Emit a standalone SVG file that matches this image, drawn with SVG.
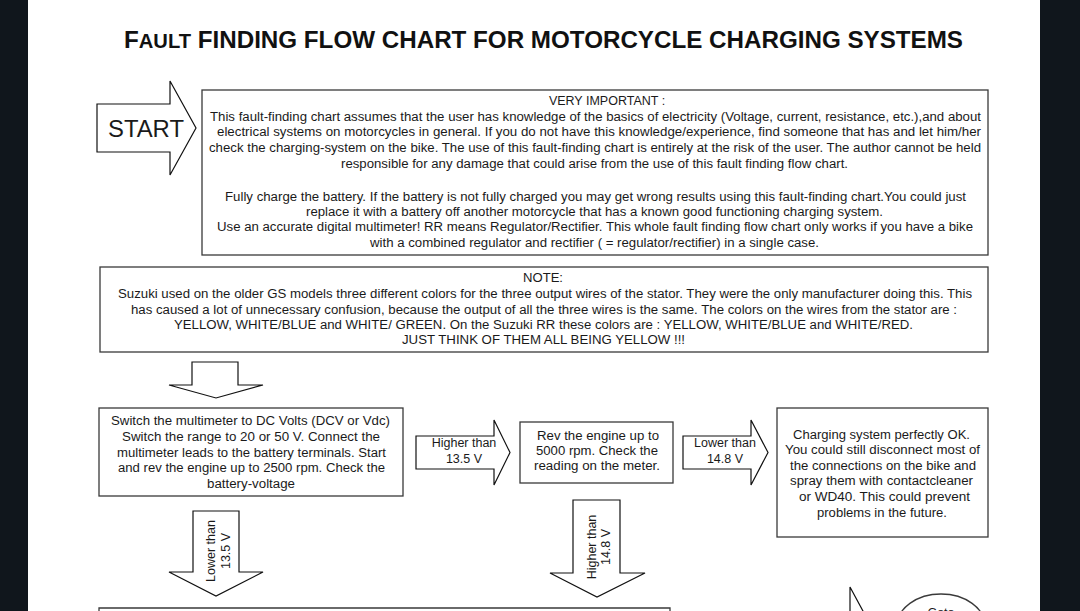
<svg xmlns="http://www.w3.org/2000/svg" width="1080" height="611" viewBox="0 0 1080 611">
<style>
  .t{font-family:"Liberation Sans",Arial,sans-serif;fill:#1a1a1a;font-size:12.5px}
  .c{text-anchor:middle}
  .box{fill:#fff;stroke:#3a3a3a;stroke-width:1.3}
  .arr{fill:#fff;stroke:#111;stroke-width:1.2;stroke-linejoin:miter}
  .title{font-family:"Liberation Sans",Arial,sans-serif;font-weight:bold;font-size:24px;fill:#111}
  .big{font-size:23px}
  .sc{font-size:20px}
</style>
<rect x="0" y="0" width="1080" height="611" fill="#ffffff"/>
<rect x="0" y="0" width="28" height="611" fill="#10161c"/>
<rect x="1040" y="0" width="40" height="611" fill="#10161c"/>

<g id="title">
  <text class="title" x="124" y="48" textLength="839" lengthAdjust="spacingAndGlyphs">F<tspan class="sc">AULT</tspan> FINDING FLOW CHART FOR MOTORCYCLE CHARGING SYSTEMS</text>
</g>

<g id="start">
  <polygon class="arr" points="97,104 170,104 170,81 196,128 170,175 170,152 97,152"/>
  <text class="t big" x="108" y="137" textLength="76" lengthAdjust="spacingAndGlyphs">START</text>
</g>

<g id="important">
  <rect class="box" x="202" y="90" width="786" height="165"/>
  <text class="t c" x="607" y="105">VERY IMPORTANT :</text>
  <text class="t c" x="595.5" y="121" textLength="771" lengthAdjust="spacingAndGlyphs">This fault-finding chart assumes that the user has knowledge of the basics of electricity (Voltage, current, resistance, etc.),and about</text>
  <text class="t c" x="599" y="136" textLength="764" lengthAdjust="spacingAndGlyphs">electrical systems on motorcycles in general. If you do not have this knowledge/experience, find someone that has and let him/her</text>
  <text class="t c" x="595" y="152" textLength="772" lengthAdjust="spacingAndGlyphs">check the charging-system on the bike. The use of this fault-finding chart is entirely at the risk of the user. The author cannot be held</text>
  <text class="t c" x="594.5" y="168" textLength="507" lengthAdjust="spacingAndGlyphs">responsible for any damage that could arise from the use of this fault finding flow chart.</text>
  <text class="t c" x="595.5" y="201" textLength="741" lengthAdjust="spacingAndGlyphs">Fully charge the battery. If the battery is not fully charged you may get wrong results using this fault-finding chart.You could just</text>
  <text class="t c" x="594.5" y="216" textLength="577" lengthAdjust="spacingAndGlyphs">replace it with a battery off another motorcycle that has a known good functioning charging system.</text>
  <text class="t c" x="595" y="231" textLength="756" lengthAdjust="spacingAndGlyphs">Use an accurate digital multimeter! RR means Regulator/Rectifier. This whole fault finding flow chart only works if you have a bike</text>
  <text class="t c" x="594.5" y="247" textLength="449" lengthAdjust="spacingAndGlyphs">with a combined regulator and rectifier ( = regulator/rectifier) in a single case.</text>
</g>

<g id="note">
  <rect class="box" x="100" y="267" width="888" height="85"/>
  <text class="t c" x="543" y="282" textLength="40" lengthAdjust="spacingAndGlyphs">NOTE:</text>
  <text class="t c" x="545" y="298" textLength="854" lengthAdjust="spacingAndGlyphs">Suzuki used on the older GS models three different colors for the three output wires of the stator. They were the only manufacturer doing this. This</text>
  <text class="t c" x="544" y="314" textLength="826" lengthAdjust="spacingAndGlyphs">has caused a lot of unnecessary confusion, because the output of all the three wires is the same. The colors on the wires from the stator are :</text>
  <text class="t c" x="543.5" y="329" textLength="739" lengthAdjust="spacingAndGlyphs">YELLOW, WHITE/BLUE and WHITE/ GREEN. On the Suzuki RR these colors are : YELLOW, WHITE/BLUE and WHITE/RED.</text>
  <text class="t c" x="543.5" y="344" textLength="283" lengthAdjust="spacingAndGlyphs">JUST THINK OF THEM ALL BEING YELLOW !!!</text>
</g>

<g id="measure-battery">
  <rect class="box" x="99" y="408" width="304" height="88"/>
  <text class="t c" x="250.5" y="425" textLength="279" lengthAdjust="spacingAndGlyphs">Switch the multimeter to DC Volts (DCV or Vdc)</text>
  <text class="t c" x="251" y="441" textLength="258" lengthAdjust="spacingAndGlyphs">Switch the range to 20 or 50 V. Connect the</text>
  <text class="t c" x="251.5" y="457" textLength="269" lengthAdjust="spacingAndGlyphs">multimeter leads to the battery terminals. Start</text>
  <text class="t c" x="251.5" y="472" textLength="267" lengthAdjust="spacingAndGlyphs">and rev the engine up to 2500 rpm. Check the</text>
  <text class="t c" x="251" y="488" textLength="88" lengthAdjust="spacingAndGlyphs">battery-voltage</text>
</g>

<g id="rev-5000">
  <rect class="box" x="520" y="422" width="153" height="61"/>
  <text class="t c" x="598" y="440" textLength="122" lengthAdjust="spacingAndGlyphs">Rev the engine up to</text>
  <text class="t c" x="597" y="455" textLength="122" lengthAdjust="spacingAndGlyphs">5000 rpm. Check the</text>
  <text class="t c" x="597" y="470" textLength="126" lengthAdjust="spacingAndGlyphs">reading on the meter.</text>
</g>

<g id="ok">
  <rect class="box" x="777" y="408" width="211" height="129"/>
  <text class="t c" x="881.5" y="439" textLength="177" lengthAdjust="spacingAndGlyphs">Charging system perfectly OK.</text>
  <text class="t c" x="882.5" y="454" textLength="195" lengthAdjust="spacingAndGlyphs">You could still disconnect most of</text>
  <text class="t c" x="883" y="470" textLength="186" lengthAdjust="spacingAndGlyphs">the connections on the bike and</text>
  <text class="t c" x="881.5" y="485" textLength="183" lengthAdjust="spacingAndGlyphs">spray them with contactcleaner</text>
  <text class="t c" x="884.5" y="501" textLength="171" lengthAdjust="spacingAndGlyphs">or WD40. This could prevent</text>
  <text class="t c" x="882" y="517" textLength="130" lengthAdjust="spacingAndGlyphs">problems in the future.</text>
</g>

<g id="next-step">
  <path class="box" d="M99,612 V608 H670 V612" fill="none"/>
</g>

<g id="goto">
  <ellipse class="box" cx="941" cy="626" rx="44" ry="32"/>
  <text class="t c" x="941" y="617">Goto</text>
</g>

<g id="connectors">
  <polygon class="arr" points="192,362 238,362 238,385 263,385 216,398 169,385 192,385"/>

  <polygon class="arr" points="416,436 494,436 494,420 510,452.5 494,485 494,469 416,469"/>
  <text class="t c" x="464" y="447">Higher than</text>
  <text class="t c" x="464" y="463">13.5 V</text>

  <polygon class="arr" points="683,436 751,436 751,420 768,452.5 751,485 751,469 683,469"/>
  <text class="t c" x="725" y="447">Lower than</text>
  <text class="t c" x="725" y="463">14.8 V</text>

  <polygon class="arr" points="193,511 239,511 239,572 263,572 216,596 169,572 193,572"/>
  <text class="t c" transform="translate(215,551) rotate(-90)">Lower than</text>
  <text class="t c" transform="translate(229.5,551) rotate(-90)">13.5 V</text>

  <polygon class="arr" points="573,500 620,500 620,573 645,573 597,597 550,573 573,573"/>
  <text class="t c" transform="translate(596,547) rotate(-90)">Higher than</text>
  <text class="t c" transform="translate(610,547) rotate(-90)">14.8 V</text>

  <path class="arr" d="M850,612 V587 L863.5,612" fill="none"/>
</g>
</svg>
